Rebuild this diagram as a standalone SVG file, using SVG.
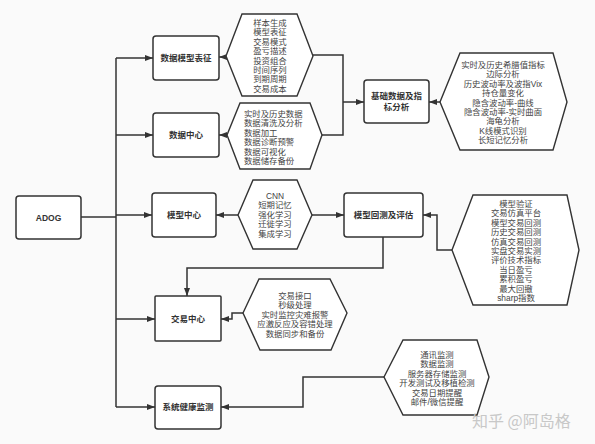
<svg xmlns="http://www.w3.org/2000/svg" width="595" height="444" viewBox="0 0 595 444">
<defs>
<marker id="arr" markerWidth="8" markerHeight="6" refX="8" refY="3" orient="auto" markerUnits="userSpaceOnUse">
<path d="M0,0 L8,3 L0,6 Z" fill="#333"/>
</marker>
<style>
.box{fill:#fff;stroke:#333;stroke-width:1.5}
.hex{fill:#fff;stroke:#333;stroke-width:1.4}
.bl{font-family:"Liberation Sans","Noto Sans CJK SC",sans-serif;font-size:8.5px;font-weight:bold;fill:#333;text-anchor:middle}
.ht{font-family:"Liberation Sans","Noto Sans CJK SC",sans-serif;font-size:8.4px;fill:#444;text-anchor:middle}
.hl{font-family:"Liberation Sans","Noto Sans CJK SC",sans-serif;font-size:8.4px;fill:#444}
.c{fill:none;stroke:#333;stroke-width:1.5}
.ca{fill:none;stroke:#333;stroke-width:1.5;marker-end:url(#arr)}
</style>
</defs>
<rect width="595" height="444" fill="#fafafa"/>

<g id="connectors">
<path class="c" d="M81 217 H116"/>
<path class="c" d="M116 58 V407"/>
<path class="ca" d="M116 58 H153"/>
<path class="ca" d="M116 135 H153"/>
<path class="ca" d="M116 215 H152"/>
<path class="ca" d="M116 319 H155"/>
<path class="ca" d="M116 407 H155"/>
<path class="ca" d="M226 57 H219"/>
<path class="ca" d="M227 135 H219"/>
<path class="c" d="M313 55 H343 V135 H322"/>
<path class="ca" d="M343 102 H364"/>
<path class="ca" d="M440 102 H429"/>
<path class="ca" d="M238 215 H216"/>
<path class="ca" d="M312 215 H344"/>
<path class="ca" d="M452 250 H437 V215 H423"/>
<path class="ca" d="M383 237 V268 H187 V296"/>
<path class="ca" d="M243 313 H232 V319 H221"/>
<path class="ca" d="M384 377 H303 V407 H221"/>
</g>

<g id="adog">
<rect class="box" x="16" y="196" width="65" height="43" rx="3"/>
<text class="bl" x="48.5" y="221">ADOG</text>
</g>

<g id="n-shujumoxing">
<rect class="box" x="153" y="36" width="66" height="44" rx="3"/>
<text class="bl" x="186" y="61">数据模型表征</text>
</g>

<g id="n-shujuzhongxin">
<rect class="box" x="153" y="113" width="66" height="44" rx="3"/>
<text class="bl" x="186" y="138">数据中心</text>
</g>

<g id="n-moxingzhongxin">
<rect class="box" x="152" y="193" width="64" height="44" rx="3"/>
<text class="bl" x="184" y="218">模型中心</text>
</g>

<g id="n-jiaoyizhongxin">
<rect class="box" x="155" y="296" width="66" height="45" rx="1"/>
<text class="bl" x="188" y="322">交易中心</text>
</g>

<g id="n-xitong">
<rect class="box" x="155" y="386" width="66" height="43" rx="3"/>
<text class="bl" x="188" y="410">系统健康监测</text>
</g>

<g id="n-jichu">
<rect class="box" x="364" y="80" width="65" height="43" rx="3"/>
<text class="bl" x="396.5" y="99">基础数据及指</text>
<text class="bl" x="396.5" y="110">标分析</text>
</g>

<g id="n-huice">
<rect class="box" x="344" y="193" width="79" height="44" rx="3"/>
<text class="bl" x="383.5" y="218">模型回测及评估</text>
</g>

<g id="hex1">
<polygon class="hex" points="226,56 242,14 297,14 313,56 297,96 242,96"/>
<text class="ht" x="270" y="26"><tspan x="270">样本生成</tspan><tspan x="270" dy="9.4">模型表征</tspan><tspan x="270" dy="9.4">交易模式</tspan><tspan x="270" dy="9.4">盈亏描述</tspan><tspan x="270" dy="9.4">投资组合</tspan><tspan x="270" dy="9.4">时间序列</tspan><tspan x="270" dy="9.4">到期周期</tspan><tspan x="270" dy="9.4">交易成本</tspan></text>
</g>

<g id="hex2">
<polygon class="hex" points="227,135 240,103 310,103 322,135 310,169 240,169"/>
<text class="hl" x="244" y="117"><tspan x="244">实时及历史数据</tspan><tspan x="244" dy="9.4">数据清洗及分析</tspan><tspan x="244" dy="9.4">数据加工</tspan><tspan x="244" dy="9.4">数据诊断预警</tspan><tspan x="244" dy="9.4">数据可视化</tspan><tspan x="244" dy="9.4">数据储存备份</tspan></text>
</g>

<g id="hex3">
<polygon class="hex" points="440,102 460,53 553,53 567,102 553,150 460,150"/>
<text class="ht" x="503" y="68"><tspan x="503">实时及历史希腊值指标</tspan><tspan x="503" dy="9.4">边际分析</tspan><tspan x="503" dy="9.4">历史波动率及波指Vix</tspan><tspan x="503" dy="9.4">持仓量变化</tspan><tspan x="503" dy="9.4">隐含波动率-曲线</tspan><tspan x="503" dy="9.4">隐含波动率-实时曲面</tspan><tspan x="503" dy="9.4">海龟分析</tspan><tspan x="503" dy="9.4">K线模式识别</tspan><tspan x="503" dy="9.4">长短记忆分析</tspan></text>
</g>

<g id="hex4">
<polygon class="hex" points="238,215 253,180 297,180 312,215 297,249 253,249"/>
<text class="ht" x="275" y="199"><tspan x="275">CNN</tspan><tspan x="275" dy="9.4">短期记忆</tspan><tspan x="275" dy="9.4">强化学习</tspan><tspan x="275" dy="9.4">迁徙学习</tspan><tspan x="275" dy="9.4">集成学习</tspan></text>
</g>

<g id="hex5">
<polygon class="hex" points="452,250 473,195 567,195 579,250 567,305 473,305"/>
<text class="ht" x="516" y="207"><tspan x="516">模型验证</tspan><tspan x="516" dy="9.4">交易仿真平台</tspan><tspan x="516" dy="9.4">模型交易回测</tspan><tspan x="516" dy="9.4">历史交易回测</tspan><tspan x="516" dy="9.4">仿真交易回测</tspan><tspan x="516" dy="9.4">实盘交易实测</tspan><tspan x="516" dy="9.4">评价技术指标</tspan><tspan x="516" dy="9.4">当日盈亏</tspan><tspan x="516" dy="9.4">累积盈亏</tspan><tspan x="516" dy="9.4">最大回撤</tspan><tspan x="516" dy="9.4">sharp指数</tspan></text>
</g>

<g id="hex6">
<polygon class="hex" points="243,313 259,279 330,279 347,313 331,350 260,350"/>
<text class="ht" x="295" y="299"><tspan x="295">交易接口</tspan><tspan x="295" dy="9.4">秒级处理</tspan><tspan x="295" dy="9.4">实时监控灾难报警</tspan><tspan x="295" dy="9.4">应激反应及容错处理</tspan><tspan x="295" dy="9.4">数据同步和备份</tspan></text>
</g>

<g id="hex7">
<polygon class="hex" points="384,377 403,340 477,340 489,377 477,415 403,415"/>
<text class="ht" x="437" y="358"><tspan x="437">通讯监测</tspan><tspan x="437" dy="9.4">数据监测</tspan><tspan x="437" dy="9.4">服务器存储监测</tspan><tspan x="437" dy="9.4">开发测试及移植检测</tspan><tspan x="437" dy="9.4">交易日期提醒</tspan><tspan x="437" dy="9.4">邮件/微信提醒</tspan></text>
</g>

<text x="472" y="427" font-family="Noto Sans CJK SC, sans-serif" font-size="16" fill="#c8c8c8">知乎 @阿岛格</text>
</svg>
